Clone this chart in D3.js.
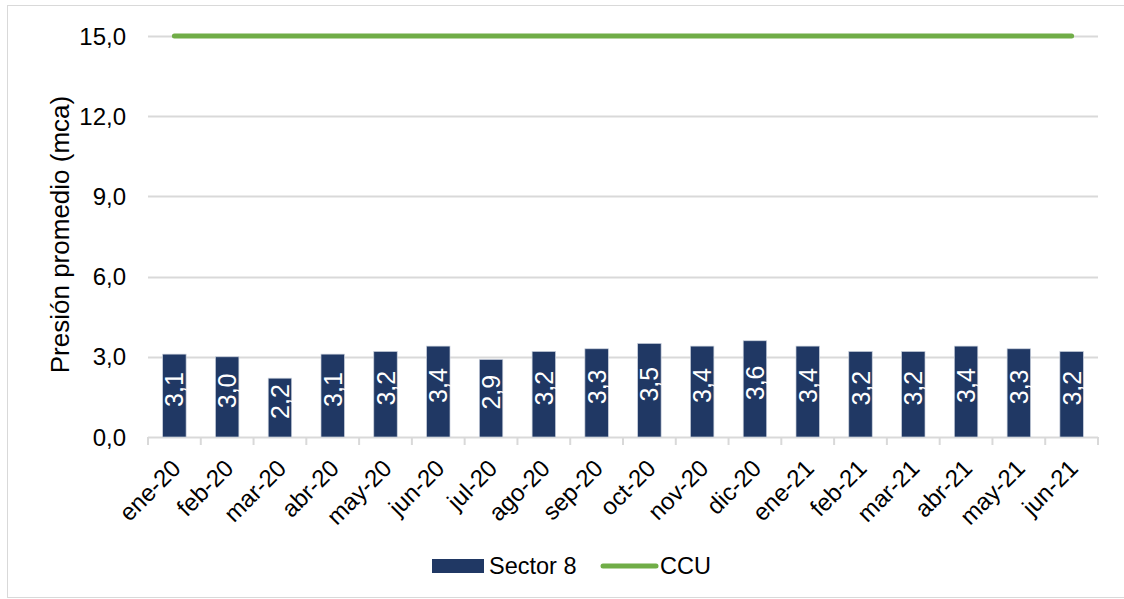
<!DOCTYPE html>
<html>
<head>
<meta charset="utf-8">
<script src="https://cdn.jsdelivr.net/npm/d3@7"></script>
<style>
  body { margin: 0; background: #fff; }
  svg { font-family: "Liberation Sans", Arial, sans-serif; }
</style>
</head>
<body>
<div id="chart"></div>
<script>
const months = ["ene-20","feb-20","mar-20","abr-20","may-20","jun-20","jul-20","ago-20","sep-20",
  "oct-20","nov-20","dic-20","ene-21","feb-21","mar-21","abr-21","may-21","jun-21"];
const sector8 = [3.1, 3.0, 2.2, 3.1, 3.2, 3.4, 2.9, 3.2, 3.3, 3.5, 3.4, 3.6, 3.4, 3.2, 3.2, 3.4, 3.3, 3.2];
const ccu = [15, 15, 15, 15, 15, 15, 15, 15, 15, 15, 15, 15, 15, 15, 15, 15, 15, 15];
const yTicks = [0, 3, 6, 9, 12, 15];

const W = 1124, H = 599;
const margin = {top: 36, right: 26, bottom: 162, left: 148},
  width = W - margin.left - margin.right,
  height = H - margin.top - margin.bottom;

const fmt = v => d3.format(".1f")(v).replace(".", ",");

const svg = d3.select("#chart")
  .append("svg")
  .attr("width", W)
  .attr("height", H);

// outer border
svg.append("rect")
  .attr("x", 7.5).attr("y", 5.5)
  .attr("width", W).attr("height", H - 7)
  .attr("fill", "none")
  .attr("stroke", "#d9d9d9");

const g = svg.append("g")
  .attr("transform", `translate(${margin.left},${margin.top})`);

const x = d3.scaleBand()
  .domain(months)
  .range([0, width]);

const y = d3.scaleLinear()
  .domain([0, 15])
  .range([height, 0]);

// gridlines
g.selectAll(".grid")
  .data(yTicks.filter(d => d > 0))
  .join("line")
    .attr("x1", 0)
    .attr("x2", width)
    .attr("y1", d => Math.round(y(d)) + 0.5)
    .attr("y2", d => Math.round(y(d)) + 0.5)
    .attr("stroke", "#d9d9d9")
    .attr("stroke-width", 2);

// y tick labels
g.selectAll(".ylab")
  .data(yTicks)
  .join("text")
    .attr("x", -22)
    .attr("y", d => y(d))
    .attr("dy", "0.36em")
    .attr("text-anchor", "end")
    .attr("font-size", 24)
    .attr("fill", "#000")
    .text(fmt);

// y title
g.append("text")
  .attr("transform", `translate(-79,${height / 2 - 2})rotate(-90)`)
  .attr("text-anchor", "middle")
  .attr("font-size", 26)
  .attr("fill", "#000")
  .text("Presión promedio (mca)");

// x axis line + ticks
g.append("line")
  .attr("x1", 0).attr("x2", width)
  .attr("y1", height + 0.5).attr("y2", height + 0.5)
  .attr("stroke", "#d9d9d9")
  .attr("stroke-width", 2);
g.selectAll(".xtick")
  .data(months.concat(["end"]))
  .join("line")
    .attr("x1", (d, i) => i * x.bandwidth())
    .attr("x2", (d, i) => i * x.bandwidth())
    .attr("y1", height)
    .attr("y2", height + 8)
    .attr("stroke", "#d9d9d9")
    .attr("stroke-width", 2);

// x labels
g.selectAll(".xlab")
  .data(months)
  .join("text")
    .attr("transform", d => `translate(${x(d) + x.bandwidth() / 2 - 5},${height + 20})rotate(-45)`)
    .attr("text-anchor", "end")
    .attr("dy", "0.75em")
    .attr("font-size", 24)
    .attr("fill", "#000")
    .text(d => d);

// bars
const barW = x.bandwidth() / 2.25;
g.selectAll(".bar")
  .data(sector8)
  .join("rect")
    .attr("x", (d, i) => x(months[i]) + (x.bandwidth() - barW) / 2)
    .attr("y", d => y(d))
    .attr("width", barW)
    .attr("height", d => height - y(d))
    .attr("fill", "#203864")
    .attr("stroke", "#c9d0dc")
    .attr("stroke-width", 0.7);

// bar labels
g.selectAll(".blab")
  .data(sector8)
  .join("text")
    .attr("transform", (d, i) => `translate(${x(months[i]) + x.bandwidth() / 2},${(y(d) + height) / 2 - 6})rotate(-90)`)
    .attr("text-anchor", "middle")
    .attr("dy", "0.36em")
    .attr("font-size", 25)
    .attr("fill", "#fff")
    .text(fmt);

// CCU line
const line = d3.line()
  .x((d, i) => x(months[i]) + x.bandwidth() / 2)
  .y(d => y(d));
g.append("path")
  .datum(ccu)
  .attr("d", line)
  .attr("fill", "none")
  .attr("stroke", "#70ad47")
  .attr("stroke-width", 5)
  .attr("stroke-linecap", "round");

// legend
const leg = svg.append("g");
leg.append("rect")
  .attr("x", 432).attr("y", 559)
  .attr("width", 52).attr("height", 14)
  .attr("fill", "#203864");
leg.append("text")
  .attr("x", 489).attr("y", 566)
  .attr("dy", "0.36em")
  .attr("font-size", 23.5)
  .text("Sector 8");
leg.append("line")
  .attr("x1", 603).attr("x2", 656)
  .attr("y1", 566).attr("y2", 566)
  .attr("stroke", "#70ad47")
  .attr("stroke-width", 5)
  .attr("stroke-linecap", "round");
leg.append("text")
  .attr("x", 660).attr("y", 566)
  .attr("dy", "0.36em")
  .attr("font-size", 23.5)
  .text("CCU");
</script>
</body>
</html>
